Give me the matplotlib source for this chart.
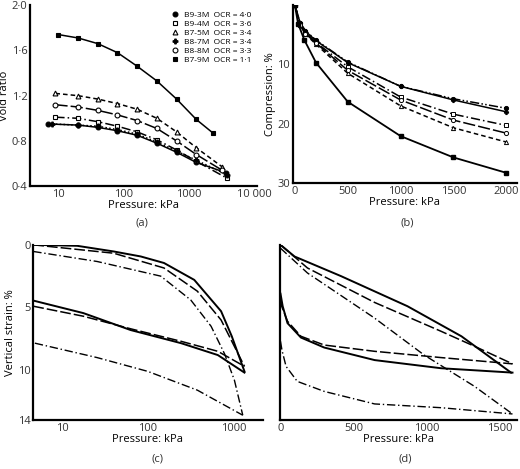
import matplotlib
matplotlib.use("Agg")
import matplotlib.pyplot as plt

plt.rcParams['font.family'] = ['Open Sans', 'DejaVu Sans']

# ---- panel (a) data ----
a_names = ["B9-3M  OCR = 4·0", "B9-4M  OCR = 3·6", "B7-5M  OCR = 3·4",
           "B8-7M  OCR = 3·4", "B8-8M  OCR = 3·3", "B7-9M  OCR = 1·1"]
a_p = [
    [7, 20, 40, 80, 160, 320, 640, 1280, 3600],
    [9, 20, 40, 80, 160, 320, 640, 1280, 3800],
    [9, 20, 40, 80, 160, 320, 640, 1280, 3200],
    [8, 20, 40, 80, 160, 320, 640, 1280, 3800],
    [9, 20, 40, 80, 160, 320, 640, 1280, 3200],
    [10, 20, 40, 80, 160, 320, 640, 1280, 2300],
]
a_e = [
    [0.95, 0.94, 0.92, 0.89, 0.85, 0.78, 0.70, 0.61, 0.52],
    [1.01, 1.00, 0.97, 0.93, 0.88, 0.81, 0.72, 0.62, 0.47],
    [1.22, 1.20, 1.17, 1.13, 1.08, 1.00, 0.88, 0.74, 0.57],
    [0.95, 0.94, 0.93, 0.90, 0.86, 0.79, 0.71, 0.63, 0.50],
    [1.12, 1.10, 1.07, 1.03, 0.98, 0.91, 0.80, 0.68, 0.54],
    [1.74, 1.71, 1.66, 1.58, 1.46, 1.33, 1.17, 0.99, 0.87],
]
a_markers = ['o', 's', '^', 'P', 'o', 's']
a_fill = [True, False, False, True, False, True]
a_styles = ['-', (0, (6, 2, 1, 2)), (0, (3, 2)), (0, (1, 1.5)), (0, (8, 2)), '-']

# ---- panel (b) data ----
b_p = [0, 50, 100, 200, 500, 1000, 1500, 2000]
b_c = [
    [0, 3.0, 4.3, 5.9, 9.6, 13.7, 15.8, 17.4],
    [0, 3.2, 4.6, 6.3, 10.4, 15.5, 18.4, 20.3],
    [0, 3.4, 4.9, 6.6, 11.5, 17.0, 20.7, 23.1],
    [0, 3.0, 4.4, 6.0, 9.7, 13.7, 16.0, 18.0],
    [0, 3.3, 4.8, 6.4, 11.0, 16.0, 19.4, 21.6],
]
b_p9 = [0, 30, 90, 200, 500, 1000, 1500, 2000]
b_c9 = [0, 3.1, 5.9, 9.7, 16.3, 22.1, 25.7, 28.3]
b_markers = ['o', 's', '^', 'P', 'o']
b_fill = [True, False, False, True, False]
b_styles = [(0, (6, 1.5, 1, 1.5, 1, 1.5)), (0, (6, 2, 1, 2)), (0, (3, 2)), '-', (0, (8, 2))]

# ---- panel (c) data (log pressure) ----
c_solid_load_p = [4.6, 15, 40, 83, 155, 350, 720, 960, 1350]
c_solid_load_s = [0.0, 0.08, 0.53, 0.93, 1.45, 2.8, 5.3, 7.3, 10.1]
c_solid_unl_p = [4.6, 17.7, 63, 245, 660, 1350]
c_solid_unl_s = [4.45, 5.45, 6.8, 7.85, 8.8, 10.2]
c_dash_load_p = [4.6, 40, 155, 380, 720, 1350]
c_dash_load_s = [0.0, 0.67, 1.85, 3.7, 6.0, 9.7]
c_dash_unl_p = [4.6, 17.7, 63, 245, 660, 1350]
c_dash_unl_s = [4.9, 5.7, 6.7, 7.7, 8.5, 9.7]
c_dd_load_p = [4.6, 25.6, 142, 318, 550, 790, 1030, 1290]
c_dd_load_s = [0.53, 1.33, 2.5, 4.4, 6.5, 8.7, 10.8, 13.6]
c_dd_unl_p = [4.8, 25.6, 100, 380, 1290]
c_dd_unl_s = [7.85, 9.0, 10.1, 11.6, 13.6]

# ---- panel (d) data (linear pressure) ----
d_solid_load_p = [0, 96, 415, 870, 1240, 1580]
d_solid_load_s = [0, 0.93, 2.5, 4.9, 7.3, 10.2]
d_solid_unl_p = [0, 15, 48, 140, 300, 645, 1100, 1590]
d_solid_unl_s = [3.9, 4.9, 6.25, 7.4, 8.2, 9.2, 9.85, 10.2]
d_dash_load_p = [0, 185, 645, 1100, 1330, 1590]
d_dash_load_s = [0, 1.85, 4.6, 6.9, 8.1, 9.5]
d_dash_unl_p = [0, 8, 48, 140, 300, 645, 1100, 1590]
d_dash_unl_s = [4.4, 4.9, 6.1, 7.3, 8.0, 8.5, 9.0, 9.5]
d_dd_load_p = [0, 185, 645, 985, 1330, 1590]
d_dd_load_s = [0.27, 2.25, 5.85, 8.8, 11.3, 13.5]
d_dd_unl_p = [0, 10, 38, 115, 300, 645, 1100, 1590]
d_dd_unl_s = [7.7, 8.4, 9.7, 10.9, 11.7, 12.7, 13.0, 13.5]

fig = plt.figure(figsize=(5.2, 4.69), dpi=100)
axa = fig.add_axes([0.058, 0.603, 0.437, 0.386])
axb = fig.add_axes([0.563, 0.610, 0.431, 0.379])
axc = fig.add_axes([0.064, 0.104, 0.441, 0.374])
axd = fig.add_axes([0.538, 0.104, 0.456, 0.374])

for ax in (axa, axb, axc, axd):
    for s in ('top', 'right'):
        ax.spines[s].set_visible(False)
    for s in ('left', 'bottom'):
        ax.spines[s].set_linewidth(1.6)
    ax.tick_params(length=0, labelsize=8, pad=2, colors='#333333')

# (a)
for p, e, m, f, ls, n in zip(a_p, a_e, a_markers, a_fill, a_styles, a_names):
    axa.plot(p, e, color='black', linestyle=ls, lw=1.1)
    axa.plot(p, e, linestyle='none', marker=m, ms=3.5,
             mfc='black' if f else 'white', mec='black', mew=0.8, label=n)
axa.set_xscale('log')
axa.set_xlim(3.7, 11000)
axa.set_ylim(0.4, 2.0)
axa.set_xticks([10, 100, 1000, 10000])
axa.set_xticklabels(['10', '100', '1000', '10 000'])
axa.minorticks_off()
axa.set_yticks([0.4, 0.8, 1.2, 1.6, 2.0])
axa.set_yticklabels(['0·4', '0·8', '1·2', '1·6', '2·0'])
axa.set_xlabel('Pressure: kPa', fontsize=8, labelpad=0)
axa.set_ylabel('Void ratio', fontsize=8, labelpad=1)
axa.legend(loc='upper right', fontsize=6, frameon=False, handletextpad=0.6,
           labelspacing=0.15, borderaxespad=0.3, handlelength=1)

# (b)
for c, m, f, ls in zip(b_c, b_markers, b_fill, b_styles):
    axb.plot(b_p, c, color='black', linestyle=ls, lw=1.1,
             marker=m, ms=3, mfc='black' if f else 'white', mec='black', mew=0.7)
axb.plot(b_p9, b_c9, color='black', lw=1.3, marker='s', ms=3)
axb.set_xlim(-20, 2100)
axb.set_ylim(30, 0)
axb.set_xticks([0, 500, 1000, 1500, 2000])
axb.set_yticks([10, 20, 30])
axb.set_xlabel('Pressure: kPa', fontsize=8, labelpad=0)
axb.set_ylabel('Compression: %', fontsize=8, labelpad=1)

dd = (0, (6, 2, 1, 2))
dsh = (0, (7, 2))
# (c)
axc.plot(c_solid_load_p, c_solid_load_s, 'k-', lw=1.4)
axc.plot(c_solid_unl_p, c_solid_unl_s, 'k-', lw=1.4)
axc.plot(c_dash_load_p, c_dash_load_s, 'k', ls=dsh, lw=1.1)
axc.plot(c_dash_unl_p, c_dash_unl_s, 'k', ls=dsh, lw=1.1)
axc.plot(c_dd_load_p, c_dd_load_s, 'k', ls=dd, lw=1.0)
axc.plot(c_dd_unl_p, c_dd_unl_s, 'k', ls=dd, lw=1.0)
axc.set_xscale('log')
axc.set_xlim(4.6, 2200)
axc.set_ylim(14, 0)
axc.set_xticks([10, 100, 1000])
axc.set_xticklabels(['10', '100', '1000'])
axc.minorticks_off()
axc.set_yticks([0, 5, 10, 14])
axc.set_xlabel('Pressure: kPa', fontsize=8, labelpad=0)
axc.set_ylabel('Vertical strain: %', fontsize=8, labelpad=1)

# (d)
axd.plot(d_solid_load_p, d_solid_load_s, 'k-', lw=1.4)
axd.plot(d_solid_unl_p, d_solid_unl_s, 'k-', lw=1.4)
axd.plot(d_dash_load_p, d_dash_load_s, 'k', ls=dsh, lw=1.1)
axd.plot(d_dash_unl_p, d_dash_unl_s, 'k', ls=dsh, lw=1.1)
axd.plot(d_dd_load_p, d_dd_load_s, 'k', ls=dd, lw=1.0)
axd.plot(d_dd_unl_p, d_dd_unl_s, 'k', ls=dd, lw=1.0)
axd.set_xlim(-5, 1620)
axd.set_ylim(14, 0)
axd.set_xticks([0, 500, 1000, 1500])
axd.set_yticks([])
axd.set_xlabel('Pressure: kPa', fontsize=8, labelpad=0)

for x, y, t in [(0.273, 0.52, '(a)'), (0.783, 0.52, '(b)'), (0.302, 0.015, '(c)'), (0.779, 0.015, '(d)')]:
    fig.text(x, y, t, fontsize=8, ha='center', color='#333333')

fig.savefig('out.png', dpi=100)
